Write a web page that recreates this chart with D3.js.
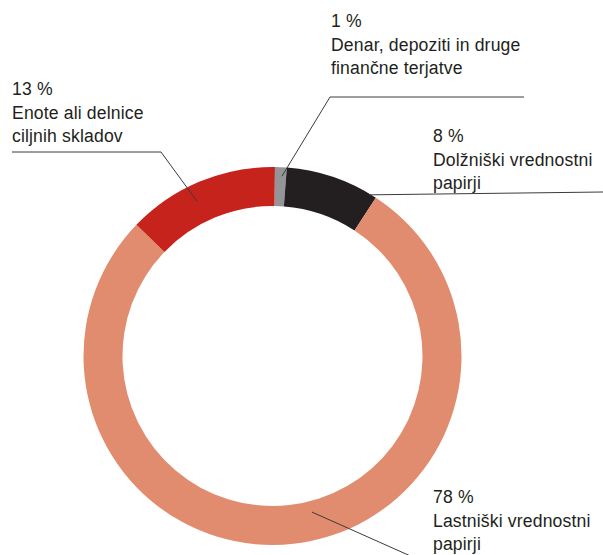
<!DOCTYPE html>
<html>
<head>
<meta charset="utf-8">
<script src="https://cdn.jsdelivr.net/npm/d3@7"></script>
<style>
  html, body { margin: 0; padding: 0; background: #fff; }
  svg { display: block; }
  text { font-family: "Liberation Sans", Arial, Helvetica, sans-serif; fill: #231f20; }
</style>
</head>
<body>
<svg id="chart" width="603" height="555"></svg>
<script>
// ---- data ----
const categories = [
  "Denar, depoziti in druge finančne terjatve",
  "Dolžniški vrednostni papirji",
  "Lastniški vrednostni papirji",
  "Enote ali delnice ciljnih skladov"
];
const values = [1, 8, 78, 13];
const percentLabels = ["1 %", "8 %", "78 %", "13 %"];
const labelLines = [
  ["Denar, depoziti in druge", "finančne terjatve"],
  ["Dolžniški vrednostni", "papirji"],
  ["Lastniški vrednostni", "papirji"],
  ["Enote ali delnice", "ciljnih skladov"]
];
const colors = ["#939598", "#231f20", "#e18c6e", "#c5231c"];

// ---- layout ----
const W = 603, H = 555;
const cx = 272.5, cy = 356;
const outerR = 189, innerR = 150;
const fontSize = 17.6, lineH = 23.5;
// label text anchor (x, first baseline), leader: start angle(deg)/radius, then path points
const layout = [
  { tx: 331, ty: 27,  a: 3,     r: 180, pts: [[330, 97], [524, 97]] },
  { tx: 433, ty: 142, a: 31,    r: 188, pts: [[603, 192]] },
  { tx: 433, ty: 503, a: 165.8, r: 161, pts: [[415, 558]] },
  { tx: 12,  ty: 95,  a: -26,   r: 172, pts: [[161, 152], [12, 152]] }
];

const svg = d3.select("#chart");
const g = svg.append("g").attr("transform", `translate(${cx},${cy})`);

const pie = d3.pie().sort(null).value(d => d).startAngle(0.013).endAngle(2 * Math.PI + 0.013);
const arc = d3.arc().innerRadius(innerR).outerRadius(outerR);

g.selectAll("path.slice")
  .data(pie(values))
  .join("path")
  .attr("class", "slice")
  .attr("d", arc)
  .attr("fill", (d, i) => colors[i]);

// leader lines
const polar = (deg, r) => {
  const t = deg * Math.PI / 180;
  return [cx + r * Math.sin(t), cy - r * Math.cos(t)];
};
const line = d3.line();
layout.forEach((L, i) => {
  const pts = [polar(L.a, L.r), ...L.pts];
  svg.append("path")
    .attr("d", line(pts))
    .attr("fill", "none")
    .attr("stroke", "#3b3b3b")
    .attr("stroke-width", 1);
});

// labels
layout.forEach((L, i) => {
  const t = svg.append("text")
    .attr("x", L.tx)
    .attr("y", L.ty)
    .attr("font-size", fontSize)
    .attr("letter-spacing", 0.15);
  const lines = [percentLabels[i], ...labelLines[i]];
  lines.forEach((s, j) => {
    t.append("tspan").attr("x", L.tx).attr("y", L.ty + j * lineH).text(s);
  });
});
</script>
</body>
</html>
